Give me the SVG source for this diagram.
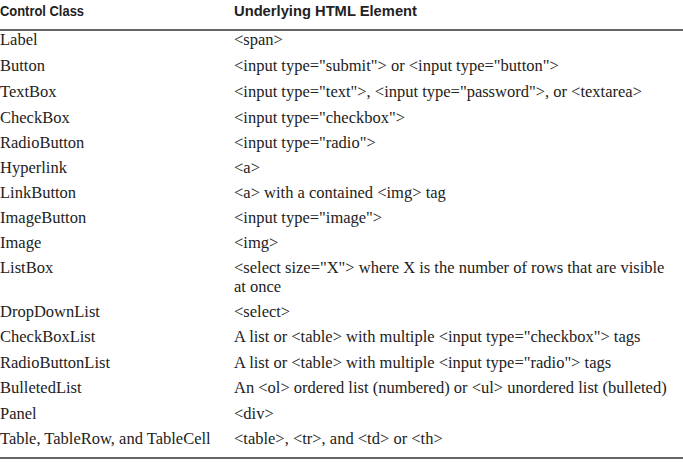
<svg xmlns="http://www.w3.org/2000/svg" width="683" height="467" viewBox="0 0 683 467">
<style>
.h{font-family:"Liberation Sans",Arial,sans-serif;font-weight:bold;font-size:15px;fill:#222}
.t{font-family:"Liberation Serif","Times New Roman",serif;font-size:16.5px;fill:#222}
.r{stroke:#666;stroke-width:2}
</style>
<rect width="683" height="467" fill="#fff"/>
<g id="header">
<text class="h" x="0" y="16" textLength="84" lengthAdjust="spacingAndGlyphs">Control Class</text>
<text class="h" x="234" y="16" textLength="183" lengthAdjust="spacingAndGlyphs">Underlying HTML Element</text>
<line class="r" x1="0" y1="30" x2="683" y2="30"/>
</g>
<g id="rows">
<text class="t" x="0" y="45">Label</text><text class="t" x="234" y="45">&lt;span&gt;</text>
<text class="t" x="0" y="71">Button</text><text class="t" x="234" y="71">&lt;input type="submit"&gt; or &lt;input type="button"&gt;</text>
<text class="t" x="0" y="97">TextBox</text><text class="t" x="234" y="97">&lt;input type="text"&gt;, &lt;input type="password"&gt;, or &lt;textarea&gt;</text>
<text class="t" x="0" y="123">CheckBox</text><text class="t" x="234" y="123">&lt;input type="checkbox"&gt;</text>
<text class="t" x="0" y="148">RadioButton</text><text class="t" x="234" y="148">&lt;input type="radio"&gt;</text>
<text class="t" x="0" y="173">Hyperlink</text><text class="t" x="234" y="173">&lt;a&gt;</text>
<text class="t" x="0" y="198">LinkButton</text><text class="t" x="234" y="198">&lt;a&gt; with a contained &lt;img&gt; tag</text>
<text class="t" x="0" y="223">ImageButton</text><text class="t" x="234" y="223">&lt;input type="image"&gt;</text>
<text class="t" x="0" y="248">Image</text><text class="t" x="234" y="248">&lt;img&gt;</text>
<text class="t" x="0" y="273">ListBox</text><text class="t" x="234" y="273">&lt;select size="X"&gt; where X is the number of rows that are visible</text>
<text class="t" x="234" y="292">at once</text>
<text class="t" x="0" y="317">DropDownList</text><text class="t" x="234" y="317">&lt;select&gt;</text>
<text class="t" x="0" y="342">CheckBoxList</text><text class="t" x="234" y="342">A list or &lt;table&gt; with multiple &lt;input type="checkbox"&gt; tags</text>
<text class="t" x="0" y="368">RadioButtonList</text><text class="t" x="234" y="368">A list or &lt;table&gt; with multiple &lt;input type="radio"&gt; tags</text>
<text class="t" x="0" y="393">BulletedList</text><text class="t" x="234" y="393">An &lt;ol&gt; ordered list (numbered) or &lt;ul&gt; unordered list (bulleted)</text>
<text class="t" x="0" y="419">Panel</text><text class="t" x="234" y="419">&lt;div&gt;</text>
<text class="t" x="0" y="444">Table, TableRow, and TableCell</text><text class="t" x="234" y="444">&lt;table&gt;, &lt;tr&gt;, and &lt;td&gt; or &lt;th&gt;</text>
<line class="r" x1="0" y1="458" x2="683" y2="458"/>
</g>
</svg>
